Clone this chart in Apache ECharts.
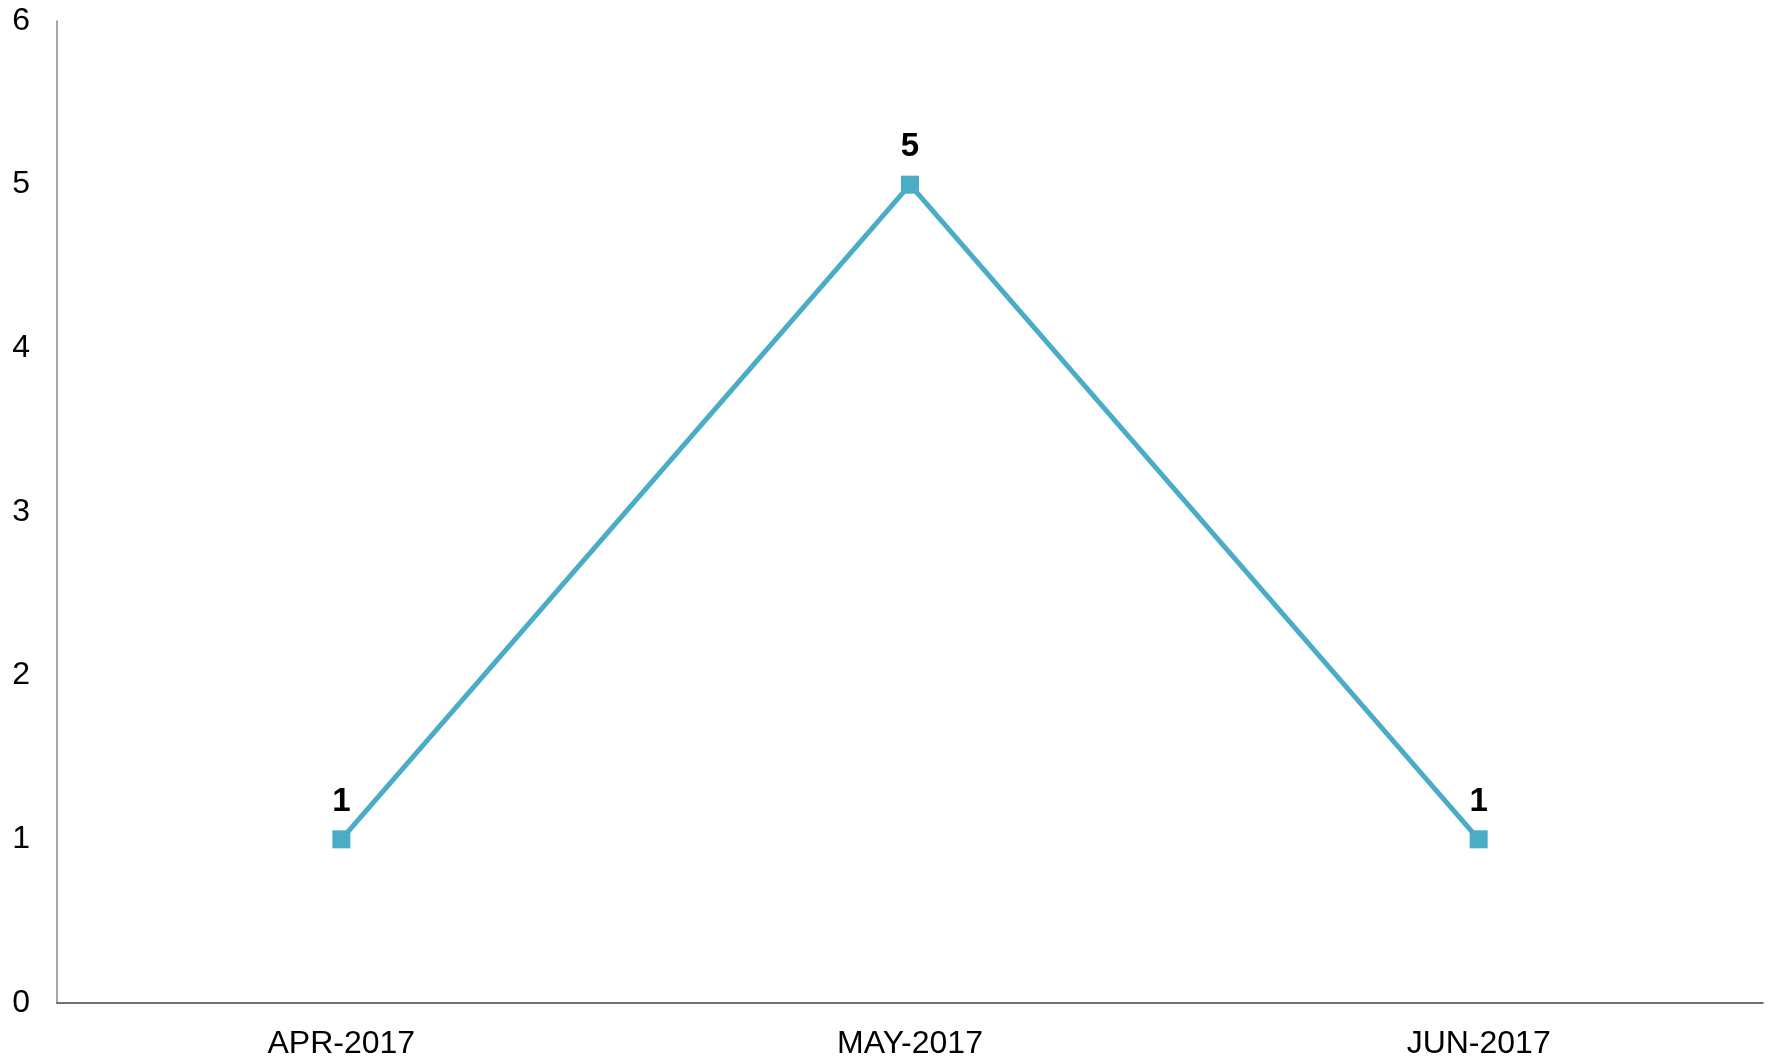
<!DOCTYPE html>
<html>
<head>
<meta charset="utf-8">
<script src="https://cdn.jsdelivr.net/npm/echarts@6/dist/echarts.min.js"></script>
<style>
  html, body { margin: 0; padding: 0; background: #fff; }
  #chart { width: 1774px; height: 1060px; }
</style>
</head>
<body>
<div id="chart"></div>
<script>
const months = ['APR-2017', 'MAY-2017', 'JUN-2017']
const counts = [1, 5, 1]
const yTicks = [0, 1, 2, 3, 4, 5, 6]

const chart = echarts.init(document.getElementById('chart'))

chart.setOption({
  animation: false,
  textStyle: { fontFamily: 'Liberation Sans, Arial, sans-serif' },
  grid: { left: 57, right: 11, top: 21, bottom: 54 },
  xAxis: {
    type: 'category',
    data: months,
    boundaryGap: true,
    axisLine: { lineStyle: { color: '#404040', width: 1.5 } },
    axisTick: { show: false },
    axisLabel: { fontSize: 32, color: '#000', margin: 25 }
  },
  yAxis: {
    type: 'value',
    min: yTicks[0],
    max: yTicks[yTicks.length - 1],
    interval: 1,
    axisLine: { show: true, lineStyle: { color: '#888', width: 1.5 } },
    axisTick: { show: false },
    splitLine: { show: false },
    axisLabel: { fontSize: 32, color: '#000', margin: 27 }
  },
  series: [{
    type: 'line',
    data: counts,
    symbol: 'rect',
    symbolSize: 18,
    lineStyle: { color: '#4BACC6', width: 5 },
    itemStyle: { color: '#4BACC6' },
    label: {
      show: true,
      position: 'top',
      distance: 12,
      fontSize: 33,
      fontWeight: 'bold',
      color: '#000'
    }
  }]
})
</script>
</body>
</html>
